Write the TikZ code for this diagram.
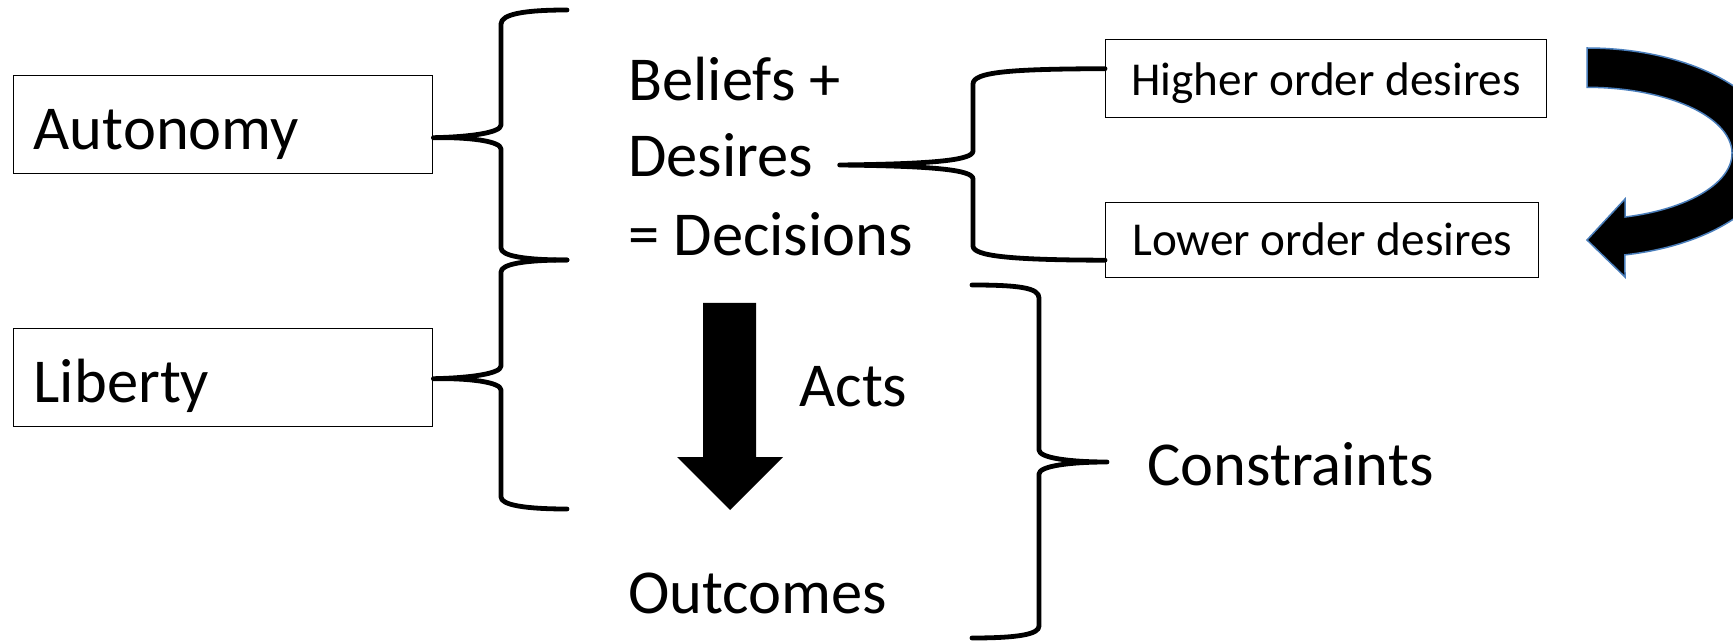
\documentclass[tikz,border=0pt]{standalone}
\usepackage{fontspec}
\setmainfont{Carlito}
\usepackage{xcolor}

\definecolor{outlineblue}{HTML}{4A7EBB}

\tikzset{
	bigtext/.style={inner sep=0pt, font=\fontsize{31.25}{38}\selectfont},
	termbox/.style={draw, line width=0.7pt, anchor=north west, inner xsep=10pt, inner ysep=6pt, text width=189.5pt, text height=31pt, text depth=6pt, font=\fontsize{31.25}{38}\selectfont},
	desirebox/.style={draw, line width=0.7pt, anchor=north west, inner ysep=6.5pt, text height=21.5pt, text depth=4.5pt, font=\fontsize{23.6}{28}\selectfont},
	bracket/.style={line width=2.4pt, line cap=round, line join=round},
}

\begin{document}
\begin{tikzpicture}[x=0.5pt, y=-0.5pt]
	\clip (0,0) rectangle (1733,641);
	% left column
	\node[termbox] (autonomy) at (13,75) {Autonomy};
	\node[termbox] (liberty) at (13,328) {Liberty};
	% middle column
	\node[bigtext, anchor=base west] (beliefs) at (628,100.5) {Beliefs +};
	\node[bigtext, anchor=base west] (desires) at (628,177) {Desires};
	\node[bigtext, anchor=base west] (decisions) at (628,256) {= Decisions};
	\node[bigtext, anchor=base west] (acts) at (799,407) {Acts};
	\node[bigtext, anchor=base west] (outcomes) at (628,613) {Outcomes};
	\node[bigtext, anchor=base west] (constraints) at (1147,485) {Constraints};
	% right column
	\node[desirebox, minimum width=220.5pt] (higher) at (1105,39) {Higher order desires};
	\node[desirebox, minimum width=216.5pt, text height=20pt] (lower) at (1105,202) {Lower order desires};
	% brace tips and ends
	\coordinate (tipA) at ([yshift=-6.5pt]autonomy.east);
	\coordinate (tipL) at ([yshift=-0.5pt]liberty.east);
	\coordinate (tipD) at ([xshift=13pt, yshift=6pt]desires.base east);
	\coordinate (tipC) at ([xshift=-20pt, yshift=11.5pt]constraints.base west);
	\coordinate (endH) at ([yshift=5pt]higher.west);
	\coordinate (endL) at ([yshift=-10pt]lower.west);
	% braces
	\draw[bracket] (567,10) .. controls (525,10) and (501,14) .. (501,24) -- (501,125) .. controls (501,133) and (468,137) .. (tipA) .. controls (468,137) and (501,141) .. (501,149) -- (501,248) .. controls (501,256) and (525,260) .. (567,260);
	\draw[bracket] (567,260) .. controls (525,260) and (501,264) .. (501,272) -- (501,366) .. controls (501,374) and (468,378) .. (tipL) .. controls (468,378) and (501,382) .. (501,390) -- (501,497) .. controls (501,505) and (525,509) .. (567,509);
	\draw[bracket] (endH) .. controls (1010,69) and (973,72) .. (973,84) -- (973,151) .. controls (973,160) and (935,164) .. (tipD) .. controls (935,166) and (973,170) .. (973,179) -- (973,246) .. controls (973,256) and (1010,260) .. (endL);
	\draw[bracket] (972,285) .. controls (1020,285) and (1039,288) .. (1039,298) -- (1039,450) .. controls (1039,458) and (1070,462) .. (tipC) .. controls (1070,462) and (1039,466) .. (1039,474) -- (1039,626) .. controls (1039,634) and (1020,638) .. (972,638);
	% acts arrow
	\fill (703,303) -- (756,303) -- (756,457) -- (783,457) -- (730,510) -- (677,457) -- (703,457) -- cycle;
	% curved arrow from higher to lower
	\filldraw[fill=black, draw=outlineblue, line width=0.75pt] (1587,48) arc[start angle=-90, end angle=78.5, x radius=190, y radius=104.5] -- (1625,277) -- (1587,240) -- (1625,199) -- (1625,217) arc[start angle=74.8, end angle=-90, x radius=145, y radius=66] -- cycle;
\end{tikzpicture}
\end{document}
